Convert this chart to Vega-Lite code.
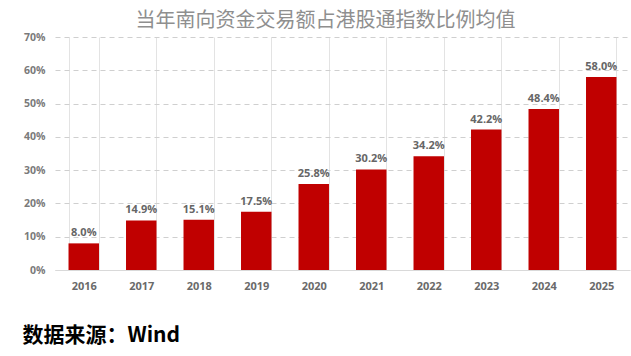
{
  "$schema": "https://vega.github.io/schema/vega-lite/v6.json",
  "width": 575,
  "height": 233,
  "autosize": "none",
  "padding": {"left": 55, "top": 37, "right": 1, "bottom": 86},
  "background": "white",
  "title": {
    "text": "当年南向资金交易额占港股通指数比例均值",
    "font": "Noto Sans CJK SC",
    "fontSize": 20,
    "fontWeight": "normal",
    "color": "#8f8f8f",
    "anchor": "middle",
    "dx": -17,
    "offset": -19,
    "baseline": "bottom"
  },
  "data": {
    "values": [
      {"year": "2016", "ratio": 0.080},
      {"year": "2017", "ratio": 0.149},
      {"year": "2018", "ratio": 0.151},
      {"year": "2019", "ratio": 0.175},
      {"year": "2020", "ratio": 0.258},
      {"year": "2021", "ratio": 0.302},
      {"year": "2022", "ratio": 0.342},
      {"year": "2023", "ratio": 0.422},
      {"year": "2024", "ratio": 0.484},
      {"year": "2025", "ratio": 0.580}
    ]
  },
  "encoding": {
    "x": {
      "field": "year",
      "type": "nominal",
      "sort": null,
      "scale": {"paddingInner": 0.47, "paddingOuter": 0.235},
      "axis": {
        "title": "数据来源：Wind",
        "titleFont": "Noto Sans CJK SC",
        "titleFontSize": 21,
        "titleFontWeight": "bold",
        "titleColor": "#000000",
        "titleAnchor": "start",
        "titleAlign": "left",
        "titleBaseline": "alphabetic",
        "titleX": -33,
        "titleY": 71,
        "labelAngle": 0,
        "labelFont": "Open Sans",
        "labelFontSize": 11,
        "labelFontWeight": "bold",
        "labelColor": "#6a6a6a",
        "labelPadding": 10,
        "ticks": false,
        "domain": true,
        "domainColor": "#d9d9d9",
        "grid": true,
        "gridColor": "#e3e3e3",
        "gridWidth": 1,
        "tickBand": "extent"
      }
    },
    "y": {
      "field": "ratio",
      "type": "quantitative",
      "scale": {"domain": [0, 0.7], "nice": false},
      "axis": {
        "title": null,
        "format": ".0%",
        "values": [0, 0.1, 0.2, 0.3, 0.4, 0.5, 0.6, 0.7],
        "labelFont": "Open Sans",
        "labelFontSize": 10.5,
        "labelFontWeight": "bold",
        "labelColor": "#7a7a7a",
        "labelPadding": 10,
        "ticks": false,
        "domain": false,
        "grid": true,
        "gridColor": "#cfcfcf",
        "gridDash": [5, 4],
        "gridWidth": 1
      }
    }
  },
  "layer": [
    {"mark": {"type": "bar", "color": "#c00000"}},
    {
      "mark": {
        "type": "text",
        "baseline": "alphabetic",
        "dy": -7,
        "font": "Open Sans",
        "fontSize": 11,
        "fontWeight": "bold",
        "color": "#666666"
      },
      "encoding": {"text": {"field": "ratio", "type": "quantitative", "format": ".1%"}}
    }
  ],
  "config": {"view": {"stroke": null}}
}
